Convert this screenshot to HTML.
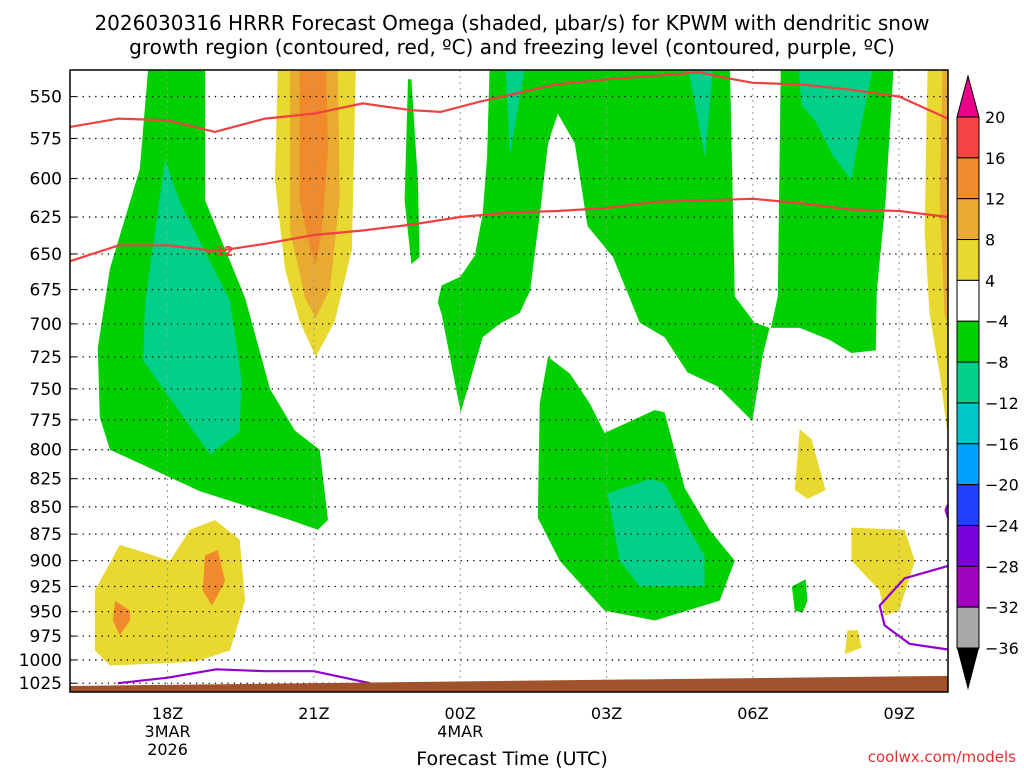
<!DOCTYPE html>
<html><head><meta charset="utf-8"><style>
body{margin:0;background:#fff;}
svg text{font-family:"DejaVu Sans","Liberation Sans",sans-serif;}
</style></head><body>
<svg id="c" width="1024" height="768" xmlns="http://www.w3.org/2000/svg">
<text x="512" y="30" text-anchor="middle" font-size="20">2026030316 HRRR Forecast Omega (shaded, μbar/s) for KPWM with dendritic snow</text>
<text x="512" y="54" text-anchor="middle" font-size="20">growth region (contoured, red, ºC) and freezing level (contoured, purple, ºC)</text>
<g id="fills"></g><g id="grid"></g><g id="lines"></g><g id="axes"></g><g id="cbar"></g>
<text x="512" y="765" text-anchor="middle" font-size="19">Forecast Time (UTC)</text>
<text x="1016" y="762" text-anchor="end" font-size="15" fill="#e03030">coolwx.com/models</text>
</svg>
<script>
const pLevels=[550,575,600,625,650,675,700,725,750,775,800,825,850,875,900,925,950,975,1000,1025];
const tHours=[2,5,8,11,14,17];
const tLabels=["18Z","21Z","00Z","03Z","06Z","09Z"];
const cbLevels=["20","16","12","8","4","−4","−8","−12","−16","−20","−24","−28","−32","−36"];
const cbColors=["#f84444","#f08a2c","#e8aa30","#e8d830","#ffffff","#00d000","#00d088","#00c8c8","#00a0ff","#2040ff","#7800d8","#a000c0","#a8a8a8"];
const green1=[[1.6,535],[1.43,594],[0.82,660],[0.57,718],[0.61,773],[0.82,800],[2.66,836],[4.51,862],[5.08,871],[5.29,862],[5.12,800],[4.61,784],[4.1,750],[3.59,681],[2.77,614],[2.77,535]];
const sliver=[[6.93,540],[6.86,614],[7.0,657],[7.17,652],[7.13,601],[7.0,540]];
const greenMid=[[8.6,535],[8.55,586],[8.46,623],[8.3,651],[8.0,666],[7.62,672],[7.54,684],[7.62,693],[8.01,769],[8.46,710],[8.81,700],[9.22,692],[9.43,676],[9.63,624],[9.8,578],[10.0,560],[10.35,578],[10.61,631],[11.13,652],[11.68,699],[12.19,710],[12.66,737],[13.27,748],[13.99,776],[14.2,724],[14.34,703],[14.03,699],[13.63,680],[13.53,535]];
const greenRight=[[14.57,535],[14.51,680],[14.37,703],[14.96,703],[15.57,712],[16.02,722],[16.52,720],[16.54,676],[16.72,614],[16.88,535]];
const greenLow=[[9.8,725],[9.63,762],[9.59,860],[10.04,900],[10.96,949],[11.99,959],[13.32,939],[13.63,900],[13.11,871],[12.6,833],[12.19,769],[11.99,767],[10.96,786],[10.66,762],[10.25,738]];
const greenSmall=[[14.8,925],[14.86,949],[15.02,951],[15.12,939],[15.08,918]];
const teal1=[[1.95,588],[1.54,684],[1.5,728],[2.87,804],[3.48,785],[3.52,743],[3.28,683],[2.25,615]];
const tealTopMid=[[8.93,535],[9.32,535],[9.02,585]];
const tealMid2=[[12.68,535],[13.18,535],[13.02,587]];
const tealRight=[[14.94,535],[16.45,535],[16.19,572],[16.02,601],[15.65,586],[15.27,564],[15.0,555]];
const tealLow=[[11.02,838],[11.27,900],[11.68,925],[13.01,925],[13.01,895],[12.7,871],[12.19,829],[11.89,825]];
const yellowCol=[[4.26,535],[4.2,601],[4.41,661],[4.71,698],[5.04,725],[5.43,698],[5.78,647],[5.86,535]];
const goldCol=[[4.51,535],[4.51,634],[4.82,681],[5.04,696],[5.33,674],[5.53,613],[5.49,535]];
const orangeCol=[[4.71,535],[4.71,613],[4.92,646],[5.04,657],[5.16,634],[5.29,583],[5.25,535]];
const yellowA=[[14.96,783],[14.86,835],[15.12,843],[15.49,835],[15.2,791]];
const yellowB=[[16.02,869],[16.02,900],[16.6,929],[16.7,954],[17.0,949],[17.32,900],[17.11,871]];
const yellowC=[[15.94,969],[15.88,994],[16.23,987],[16.15,969]];
const yellowR=[[17.58,535],[17.52,635],[17.62,692],[17.83,738],[18,790],[18,535]];
const goldR=[[17.89,535],[17.83,612],[17.93,693],[18,700],[18,535]];
const yellowL=[[0.51,949],[0.51,990],[0.82,1006],[2.56,1002],[3.28,990],[3.59,939],[3.48,880],[2.97,862],[2.46,871],[2.05,900],[1.02,885],[0.51,929]];
const orangeL1=[[0.92,939],[0.88,959],[1.02,974],[1.23,959],[1.23,949]];
const orangeL2=[[2.77,895],[2.72,929],[2.91,944],[3.18,920],[3.03,890]];
const redTop=[[0,568],[1,563],[2,564],[2.97,571],[4,563],[5,560],[6,554],[7,558],[7.6,559],[8.4,553],[9.96,543],[11,540],[12,538],[12.9,536],[13.4,539],[14,542],[15,543],[16,546],[17,550],[18,563]];
const redLow=[[0,655],[1,644],[2,644],[3,648],[4,643],[5,637],[6,634],[7,630],[8,625],[9,622],[10,621],[11,619],[12,615],[13,614],[14,613],[15,616],[16,620],[17,621],[18,625]];
const purpleL=[[0.98,1025],[2,1019],[3,1010],[4,1012],[5,1012],[6.15,1025]];
const purpleR=[[18,905],[17.11,917],[16.6,944],[16.7,964],[17.21,983],[18,989]];
const purpleBump=[[18,848],[17.95,853],[18,860]];
const groundP=[1028,1017];

const X0=70,X1=948,Y0=70,Y1=692,H=18;
const lnTop=Math.log(534.7),lnBot=Math.log(1034.6);
const xs=h=>X0+h/H*(X1-X0);
const ys=p=>Y0+(Math.log(p)-lnTop)/(lnBot-lnTop)*(Y1-Y0);
const NS="http://www.w3.org/2000/svg";
function mk(tag,parent,attrs){const e=document.createElementNS(NS,tag);for(const k in attrs)e.setAttribute(k,attrs[k]);document.getElementById(parent).appendChild(e);return e;}
const pts=a=>a.map(d=>xs(d[0]).toFixed(1)+","+ys(d[1]).toFixed(1)).join(" ");
function poly(a,color,name){const e=mk("polygon","fills",{points:pts(a),fill:color});

}
function line(a,color,name,w){const e=mk("polyline","lines",{points:pts(a),fill:"none",stroke:color,"stroke-width":w});

}
const G="#00d000",T="#00d088",Y="#e8d830",GD="#e8aa30",O="#f08a2c";
[[green1,"green-region-left"],[sliver,"green-sliver"],[greenMid,"green-region-middle"],[greenRight,"green-region-right"],[greenLow,"green-region-lower"],[greenSmall,"green-blob-small"]].forEach(d=>poly(d[0],G,d[1]));
[[teal1,"teal-region-left"],[tealTopMid,"teal-region-top"],[tealMid2,"teal-region-top-2"],[tealRight,"teal-region-right"],[tealLow,"teal-region-lower"]].forEach(d=>poly(d[0],T,d[1]));
[[yellowCol,"yellow-column"],[yellowA,"yellow-blob-a"],[yellowB,"yellow-blob-b"],[yellowC,"yellow-blob-c"],[yellowR,"yellow-right-edge"],[yellowL,"yellow-lower-left"]].forEach(d=>poly(d[0],Y,d[1]));
poly(goldCol,GD,"gold-column");
poly(goldR,GD,"gold-right-edge");
[[orangeCol,"orange-column"],[orangeL1,"orange-blob-1"],[orangeL2,"orange-blob-2"]].forEach(d=>poly(d[0],O,d[1]));
pLevels.forEach(p=>{const e=mk("line","grid",{x1:X0,x2:X1,y1:ys(p),y2:ys(p),stroke:"#000","stroke-width":1.3,"stroke-dasharray":"1.3 5"});

});
tHours.forEach(h=>{const e=mk("line","grid",{x1:xs(h),x2:xs(h),y1:Y0,y2:Y1,stroke:"#999","stroke-width":1,"stroke-dasharray":"2 4"});

});
line(redTop,"#f04040","dgz-contour-upper",2.2);
line(redLow,"#f04040","dgz-contour-lower",2.2);
line(purpleL,"#9000d0","freezing-level-left",2.2);
line(purpleR,"#9000d0","freezing-level-right",2.2);
line(purpleBump,"#9000d0","freezing-level-bump",2.2);
const lab=mk("text","lines",{x:xs(3.05),y:ys(648)+5,"font-size":13,"font-weight":"bold",fill:"#f04040","text-anchor":"middle"});lab.textContent="−12";


const gr=mk("polygon","lines",{points:`${X0},${ys(groundP[0])} ${X1},${ys(groundP[1])} ${X1},${Y1} ${X0},${Y1}`,fill:"#a0522d"});


const fr=mk("rect","axes",{x:X0,y:Y0,width:X1-X0,height:Y1-Y0,fill:"none",stroke:"#000","stroke-width":1.5});


pLevels.forEach(p=>{const t=mk("text","axes",{x:62,y:ys(p)+6,"font-size":17,"text-anchor":"end"});t.textContent=p;


const k=mk("line","axes",{x1:X0,x2:X0+6,y1:ys(p),y2:ys(p),stroke:"#000"});

});
tHours.forEach((h,i)=>{const t=mk("text","axes",{x:xs(h),y:719,"font-size":16,"text-anchor":"middle"});t.textContent=tLabels[i];

});
[["3MAR",2,737],["2026",2,755],["4MAR",8,737]].forEach(d=>{const t=mk("text","axes",{x:xs(d[1]),y:d[2],"font-size":16,"text-anchor":"middle"});t.textContent=d[0];

});
const cx=957,cw=22,cy0=117,ch=(648-117)/13;
cbColors.forEach((c,i)=>{const r=mk("rect","cbar",{x:cx,y:cy0+i*ch,width:cw,height:ch,fill:c,stroke:"#000","stroke-width":1});

});
const tu=mk("polygon","cbar",{points:`${cx},${cy0} ${cx+cw},${cy0} ${cx+cw/2},76`,fill:"#e8008a",stroke:"#000"});


const td=mk("polygon","cbar",{points:`${cx},648 ${cx+cw},648 ${cx+cw/2},690`,fill:"#000"});


cbLevels.forEach((l,i)=>{const t=mk("text","cbar",{x:985,y:cy0+i*ch+6,"font-size":16});t.textContent=l;

});
</script>
</body></html>
